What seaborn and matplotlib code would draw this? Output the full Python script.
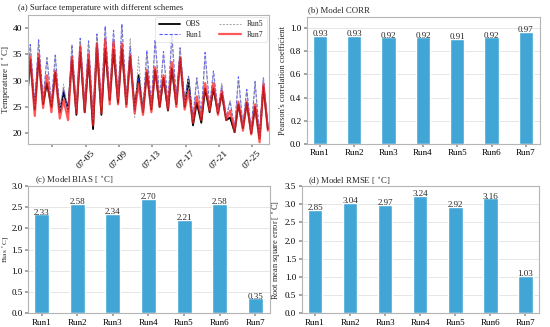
import numpy as np
import pandas as pd
import matplotlib
matplotlib.use("Agg")
import matplotlib.pyplot as plt
import seaborn as sns

# ---------------- data ----------------
runs = ["Run1", "Run2", "Run3", "Run4", "Run5", "Run6", "Run7"]
corr = [0.93, 0.93, 0.92, 0.92, 0.91, 0.92, 0.97]
bias = [2.33, 2.58, 2.34, 2.70, 2.21, 2.58, 0.35]
rmse = [2.85, 3.04, 2.97, 3.24, 2.92, 3.16, 1.03]

days = pd.date_range("2023-06-28", "2023-07-26", freq="D")
start_vals = {"OBS": 27.5, "Run1": 29.0, "Run5": 28.5, "Run7": 28.0}
# daily peak (afternoon) values
obs_peak = [33.8, 34.3, 29.5, 31.5, 27.8, 34.0, 35.5, 34.0, 36.5, 36.0, 35.8, 36.0, 34.5, 31.0, 31.5,
            32.0, 30.5, 32.3, 34.3, 30.3, 25.8, 28.5, 28.5, 27.5, 23.0, 25.5, 25.8, 25.0, 28.8]
run1_peak = [36.8, 37.7, 34.3, 34.8, 28.5, 36.8, 38.0, 37.5, 38.8, 40.3, 39.5, 40.7, 36.5, 30.5, 35.7,
             37.8, 35.5, 38.8, 36.2, 30.8, 30.5, 35.3, 31.8, 29.0, 26.0, 30.7, 28.3, 29.8, 30.5]
run5_peak = [36.3, 37.0, 34.5, 34.5, 29.3, 36.5, 37.5, 37.0, 38.5, 39.5, 39.0, 40.0, 38.0, 34.5, 35.0,
             37.0, 35.0, 38.0, 36.0, 30.5, 30.5, 34.5, 31.5, 29.5, 26.3, 30.0, 28.0, 29.5, 30.5]
run7_peak = [34.5, 35.0, 31.0, 31.8, 26.3, 34.5, 36.5, 35.0, 37.0, 37.8, 37.3, 37.0, 34.8, 29.5, 32.0,
             32.5, 31.0, 33.5, 34.3, 28.0, 27.0, 29.5, 29.5, 28.0, 24.3, 26.0, 26.0, 25.5, 29.3]
# daily trough (night) values
obs_low = [24.5, 25.5, 25.0, 24.0, 24.5, 23.5, 24.0, 20.8, 23.5, 26.3, 25.8, 25.5, 24.5, 24.0, 24.5,
           25.0, 24.3, 25.5, 25.0, 21.5, 22.0, 24.0, 23.8, 22.5, 20.2, 21.0, 20.0, 19.0, 20.8]
run1_low = [25.5, 26.5, 26.0, 24.5, 24.0, 24.5, 25.5, 23.0, 25.5, 27.0, 27.0, 26.5, 24.0, 24.5, 25.5,
            26.5, 25.5, 26.5, 26.0, 23.0, 23.5, 25.0, 24.5, 23.0, 21.0, 21.5, 20.5, 19.5, 21.5]
run5_low = [25.0, 26.0, 25.5, 24.0, 24.0, 24.5, 25.0, 22.5, 25.0, 27.0, 26.5, 26.0, 23.0, 24.0, 25.0,
            26.0, 25.0, 26.0, 25.5, 22.5, 23.0, 24.5, 24.0, 23.0, 21.0, 21.5, 20.5, 19.0, 21.5]
run7_low = [23.3, 24.8, 24.0, 22.8, 22.5, 23.8, 24.0, 21.5, 23.8, 25.5, 25.5, 25.0, 23.8, 23.5, 24.0,
            25.0, 24.5, 25.0, 24.5, 22.0, 22.5, 24.3, 23.5, 22.5, 20.3, 20.5, 19.8, 18.3, 20.5]

series_peaks = {"OBS": obs_peak, "Run1": run1_peak, "Run5": run5_peak, "Run7": run7_peak}
series_lows = {"OBS": obs_low, "Run1": run1_low, "Run5": run5_low, "Run7": run7_low}

tick_dates = pd.to_datetime(["2023-07-01", "2023-07-05", "2023-07-09", "2023-07-13",
                             "2023-07-17", "2023-07-21", "2023-07-25"])
tick_labels = ["", "07-05", "07-09", "07-13", "07-17", "07-21", "07-25"]

# build long table: start point, then peak (08h) and trough (21h) for every day
rows = []
for name in ["OBS", "Run1", "Run5", "Run7"]:
    rows.append((days[0], start_vals[name], name))
    for d, p, l in zip(days, series_peaks[name], series_lows[name]):
        rows.append((d + pd.Timedelta(hours=8), p, name))
        rows.append((d + pd.Timedelta(hours=21), l, name))
ts = pd.DataFrame(rows, columns=["time", "temp", "series"])

# ---------------- style ----------------
sns.set_theme(style="whitegrid")
plt.rcParams["font.family"] = ["Liberation Serif", "DejaVu Serif"]
plt.rcParams["mathtext.fontset"] = "stix"
plt.rcParams["axes.edgecolor"] = "#b5b5b5"
plt.rcParams["axes.linewidth"] = 0.8
plt.rcParams["grid.color"] = "#e6e6e6"
plt.rcParams["grid.linewidth"] = 0.7
plt.rcParams["xtick.bottom"] = True
plt.rcParams["ytick.left"] = True
plt.rcParams["xtick.major.size"] = 2.5
plt.rcParams["ytick.major.size"] = 2.5
plt.rcParams["xtick.color"] = "#999999"
plt.rcParams["ytick.color"] = "#999999"
plt.rcParams["xtick.labelcolor"] = "black"
plt.rcParams["ytick.labelcolor"] = "black"
plt.rcParams["xtick.major.pad"] = 1.5
plt.rcParams["ytick.major.pad"] = 1.5

fig = plt.figure(figsize=(5.5, 3.27), dpi=100)
axa = fig.add_axes([0.050, 0.560, 0.439, 0.394])
axb = fig.add_axes([0.558, 0.560, 0.423, 0.389])
axc = fig.add_axes([0.051, 0.042, 0.439, 0.389])
axd = fig.add_axes([0.5485, 0.042, 0.432, 0.389])

# ---------------- (a) time series ----------------
styles = {
    "OBS": dict(color="black", lw=1.3, ls="-", alpha=1.0),
    "Run1": dict(color="#3333ff", lw=0.8, ls=(0, (3, 1.5)), alpha=0.8),
    "Run5": dict(color="#999999", lw=0.7, ls=(0, (2, 1.5)), alpha=0.9),
    "Run7": dict(color="#ff2020", lw=1.6, ls="-", alpha=0.75),
}
for name in ["OBS", "Run1", "Run5", "Run7"]:
    sub = ts[ts["series"] == name]
    sns.lineplot(data=sub, x="time", y="temp", ax=axa, label=name,
                 color=styles[name]["color"], linewidth=styles[name]["lw"],
                 linestyle=styles[name]["ls"], alpha=styles[name]["alpha"])
axa.grid(False)
axa.set_xlim(pd.Timestamp("2023-06-28"), pd.Timestamp("2023-07-27"))
axa.set_ylim(18, 42.4)
axa.set_yticks([20, 25, 30, 35, 40])
axa.set_xticks(tick_dates)
axa.set_xticklabels(tick_labels, rotation=45, fontsize=6.8)
axa.tick_params(axis="y", labelsize=6.8)
axa.set_xlabel("")
axa.set_ylabel("Temperature [ $^\\circ$C]", fontsize=6.5, labelpad=0.5)
leg = axa.legend(loc="upper right", ncol=2, fontsize=5.5, frameon=True,
                 handlelength=2.8, columnspacing=2.2, borderaxespad=0.3,
                 handletextpad=0.8, labelspacing=0.3)
leg.get_frame().set_edgecolor("#dddddd")
leg.get_frame().set_linewidth(0.6)

# ---------------- bar panels ----------------
bar_color = "#41a6d5"

def bar_panel(ax, vals, ylim, yticks, ylabel, ylabel_size, pad):
    sns.barplot(x=runs, y=vals, color=bar_color, width=0.42, ax=ax, saturation=1)
    ax.bar_label(ax.containers[0], fmt="%.2f", fontsize=6.5, padding=-1.5)
    ax.set_xlim(-0.38, 6.4)
    ax.set_ylim(*ylim)
    ax.set_yticks(yticks)
    ax.tick_params(axis="both", labelsize=6.5)
    ax.set_ylabel(ylabel, fontsize=ylabel_size, labelpad=pad)
    ax.grid(axis="x", visible=False)
    ax.set_axisbelow(True)

bar_panel(axb, corr, (0, 1.1), np.arange(0, 1.01, 0.2), "Pearson's correlation coefficient", 6, 2)
axb.set_yticklabels([f"{v:.1f}" for v in np.arange(0, 1.01, 0.2)])
bar_panel(axc, bias, (0, 3.0), np.arange(0, 3.01, 0.5), "Bias $^\\circ$C]", 5.2, 0.3)
bar_panel(axd, rmse, (0, 3.5), np.arange(0, 3.51, 0.5), "Root mean square error [ $^\\circ$C]", 6, 2)

# ---------------- titles ----------------
fig.text(0.033, 0.968, "(a) Surface temperature with different schemes", fontsize=6.3)
fig.text(0.560, 0.963, "(b) Model CORR", fontsize=6.3)
fig.text(0.064, 0.443, "(c) Model BIAS [ $^\\circ$C]", fontsize=6.3)
fig.text(0.560, 0.439, "(d) Model RMSE [ $^\\circ$C]", fontsize=6.3)

fig.savefig("out.png", dpi=100)
